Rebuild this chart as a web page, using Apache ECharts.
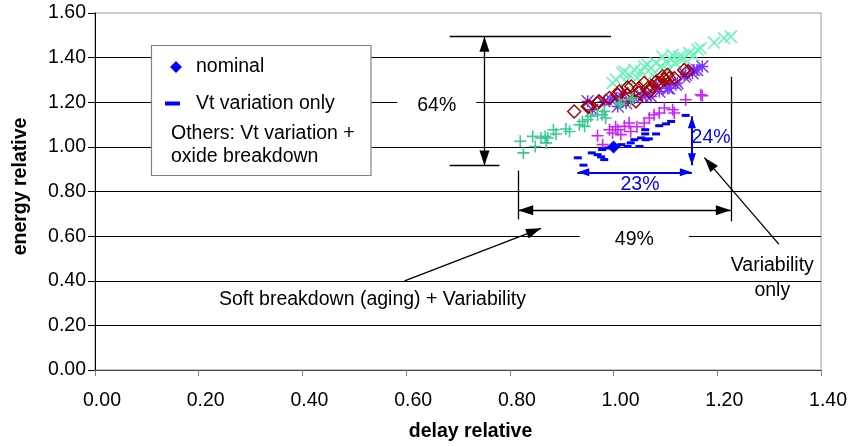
<!DOCTYPE html>
<html><head><meta charset="utf-8">
<script src="https://cdn.jsdelivr.net/npm/echarts@6/dist/echarts.min.js"></script>
<style>html,body{margin:0;padding:0;background:#fff}#c{width:850px;height:447px}</style>
</head><body><div id="c"></div>
<script>
// ---------- data (delay relative, energy relative) ----------
const nominal = [[1.00, 1.00]];
const vtOnly = [[0.931,0.951],[0.942,0.918],[0.958,0.973],[0.969,0.965],[0.976,0.955],[0.982,0.943],[0.978,0.988],[0.990,0.995],[1.005,1.002],[1.015,1.010],[1.027,1.002],[1.033,1.018],[1.040,1.032],[1.050,1.002],[1.053,1.040],[1.061,1.058],[1.062,1.032],[1.068,1.036],[1.061,1.077],[1.082,1.058],[1.088,1.095],[1.101,1.103],[1.111,1.114],[1.139,1.141]];
const greenPlus = [[0.820,1.025],[0.826,0.973],[0.844,1.047],[0.849,1.002],[0.860,1.040],[0.868,1.047],[0.870,1.018],[0.873,1.040],[0.884,1.077],[0.889,1.058],[0.908,1.080],[0.915,1.069],[0.934,1.099],[0.940,1.114],[0.944,1.092],[0.950,1.122],[0.956,1.137],[0.969,1.144],[0.978,1.144],[0.982,1.159],[0.985,1.129],[1.011,1.196],[1.014,1.189],[1.033,1.211],[1.037,1.219]];
const lightX = [[0.998,1.286],[1.005,1.301],[1.017,1.331],[1.021,1.338],[1.024,1.293],[1.030,1.323],[1.040,1.345],[1.046,1.308],[1.053,1.338],[1.059,1.360],[1.065,1.368],[1.072,1.353],[1.075,1.323],[1.082,1.375],[1.091,1.360],[1.094,1.405],[1.101,1.382],[1.104,1.345],[1.111,1.390],[1.114,1.412],[1.120,1.375],[1.127,1.405],[1.130,1.398],[1.136,1.398],[1.146,1.420],[1.155,1.412],[1.162,1.435],[1.168,1.442],[1.194,1.467],[1.213,1.487],[1.226,1.494]];
const redDiamond = [[0.924,1.159],[0.950,1.181],[0.953,1.181],[0.969,1.196],[0.972,1.204],[0.992,1.219],[1.008,1.234],[1.011,1.248],[1.024,1.211],[1.027,1.234],[1.027,1.266],[1.034,1.271],[1.043,1.204],[1.049,1.263],[1.049,1.241],[1.059,1.286],[1.066,1.263],[1.069,1.248],[1.075,1.271],[1.082,1.293],[1.088,1.286],[1.094,1.315],[1.098,1.301],[1.104,1.323],[1.107,1.308],[1.117,1.308],[1.136,1.345],[1.143,1.338]];
const purpleStar = [[0.950,1.204],[0.959,1.166],[0.982,1.204],[0.995,1.211],[1.005,1.219],[1.008,1.181],[1.017,1.241],[1.024,1.196],[1.040,1.219],[1.056,1.226],[1.062,1.233],[1.072,1.226],[1.082,1.278],[1.088,1.248],[1.104,1.263],[1.107,1.263],[1.120,1.278],[1.123,1.286],[1.136,1.315],[1.139,1.323],[1.152,1.330],[1.155,1.345],[1.161,1.345],[1.171,1.360]];
const magentaPlus = [[0.969,1.050],[0.979,1.010],[0.992,1.077],[0.998,1.062],[1.004,1.090],[1.008,1.077],[1.014,1.055],[1.021,1.092],[1.030,1.107],[1.033,1.069],[1.045,1.090],[1.059,1.107],[1.069,1.129],[1.078,1.144],[1.088,1.152],[1.098,1.174],[1.114,1.166],[1.117,1.152],[1.139,1.211],[1.168,1.234],[1.171,1.229]];

const legendNames = ['nominal', 'Vt variation only'];
const legendNote = ['Others: Vt variation +', 'oxide breakdown'];
const axisTitles = {x: 'delay relative', y: 'energy relative'};

// annotation segments in data units: [x1,y1,x2,y2,startArrow,endArrow,kind]
const segments = [
  [0.684,1.494,0.995,1.494,0,0,'k'],
  [0.684,0.916,0.780,0.916,0,0,'k'],
  [0.751,1.494,0.751,0.916,1,1,'k'],
  [0.816,0.894,0.816,0.675,0,0,'k'],
  [1.226,1.314,1.226,0.666,0,0,'k'],
  [0.816,0.716,1.226,0.716,1,1,'k'],
  [0.930,0.886,1.151,0.886,1,1,'b'],
  [1.151,1.137,1.151,0.918,1,1,'b'],
  [0.597,0.399,0.860,0.635,0,1,'k'],
  [1.319,0.563,1.175,0.952,0,1,'k']
];
// annotation texts: [text, x, y, kind, whiteBoxHalfPad]
const notes = [
  ['64%', 0.659, 1.184, 'k', 20],
  ['49%', 1.040, 0.585, 'k', 35],
  ['23%', 1.051, 0.831, 'b', 0],
  ['24%', 1.188, 1.041, 'b', 0],
  ['Soft breakdown (aging) + Variability', 0.535, 0.317, 'k', 0],
  ['Variability\nonly', 1.306, 0.411, 'k', 0]
];

const FONT = '"Liberation Sans", Arial, sans-serif';
const FS = 19.5;
const BLUE = '#0000FF';
const PLUS = 'path://M4.35,0 H5.65 V4.35 H10 V5.65 H5.65 V10 H4.35 V5.65 H0 V4.35 H4.35 Z';
const PLUS_THIN = 'path://M4.55,0 H5.45 V4.55 H10 V5.45 H5.45 V10 H4.55 V5.45 H0 V4.55 H4.55 Z';
const STAR = 'path://M4.4,0 H5.6 V4.4 H10 V5.6 H5.6 V10 H4.4 V5.6 H0 V4.4 H4.4 Z ' +
  'M0.42,-0.42 L10.42,9.58 L9.58,10.42 L-0.42,0.42 Z M10.42,0.42 L0.42,10.42 L-0.42,9.58 L9.58,-0.42 Z';
const ARROW_K = 'path://M5,0 M5,15 L10,30 L0,30 Z';
const ARROW_B = 'path://M4,0 M4,12 L8,24 L0,24 Z';
const ICON_DIAMOND = 'path://M0,0 M30,14 M15,1 L21,7 L15,13 L9,7 Z';
const ICON_DASH = 'path://M0,0 M30,14 M4,5 H19 V9 H4 Z';

const chart = echarts.init(document.getElementById('c'), null, {renderer: 'canvas'});

function sc(name, data, symbol, size, color, extra) {
  return Object.assign({
    type: 'scatter', name, data, symbol, symbolSize: size,
    itemStyle: {color, opacity: 1}, emphasis: {disabled: true}, silent: true
  }, extra || {});
}

const mlData = segments.map(s => {
  const col = s[6] === 'b' ? BLUE : '#000';
  const arr = s[6] === 'b' ? ARROW_B : ARROW_K;
  const sz = s[6] === 'b' ? [8, 24] : [10, 30];
  return [
    {coord: [s[0], s[1]], symbol: s[4] ? arr : 'none', symbolSize: sz,
     lineStyle: {color: col, width: s[6] === 'b' ? 2 : 1.3, type: 'solid'}, itemStyle: {color: col}},
    {coord: [s[2], s[3]], symbol: s[5] ? arr : 'none', symbolSize: sz, itemStyle: {color: col}}
  ];
});

chart.setOption({
  animation: false,
  grid: {left: 95, right: 28, top: 13, bottom: 76, show: true, borderColor: '#999', borderWidth: 1},
  xAxis: {
    type: 'value', min: 0, max: 1.4, interval: 0.2,
    name: axisTitles.x, nameLocation: 'middle', nameGap: 52,
    nameTextStyle: {fontFamily: FONT, fontSize: FS, fontWeight: 'bold', color: '#000', padding: [0, 0, 0, 25]},
    axisLine: {show: true, lineStyle: {color: '#404040', width: 1}},
    axisTick: {show: true, length: 6, lineStyle: {color: '#808080'}},
    axisLabel: {fontFamily: FONT, fontSize: FS, color: '#000', margin: 21, padding: [0, 0, 0, 14], formatter: v => v.toFixed(2)},
    splitLine: {show: false}
  },
  yAxis: {
    type: 'value', min: 0, max: 1.6, interval: 0.2,
    name: axisTitles.y, nameLocation: 'middle', nameGap: 64, nameRotate: 90,
    nameTextStyle: {fontFamily: FONT, fontSize: FS, fontWeight: 'bold', color: '#000', padding: [0, 0, 0, 10]},
    axisLine: {show: true, lineStyle: {color: '#000', width: 1}},
    axisTick: {show: true, length: 7, lineStyle: {color: '#000'}},
    axisLabel: {fontFamily: FONT, fontSize: FS, color: '#000', margin: 9, padding: [4, 0, 0, 0], formatter: v => v.toFixed(2)},
    splitLine: {show: true, showMaxLine: false, lineStyle: {color: '#000', width: 1}}
  },
  legend: {
    data: [{name: legendNames[0], icon: ICON_DIAMOND}, {name: legendNames[1], icon: ICON_DASH}],
    orient: 'vertical', left: 161, top: 57, itemWidth: 30, itemHeight: 14, itemGap: 16.5, padding: 0,
    selectedMode: false, z: 110,
    textStyle: {fontFamily: FONT, fontSize: FS, color: '#000', lineHeight: 20}
  },
  series: [
    sc('light x', lightX, PLUS_THIN, 17, '#66F5B8', {symbolRotate: 45}),
    sc('purple star', purpleStar, STAR, 13, '#7A2EFF'),
    sc('red diamond', redDiamond, 'diamond', 13, 'rgba(0,0,0,0)', {itemStyle: {color: 'rgba(0,0,0,0)', borderColor: '#A00000', borderWidth: 1.4, opacity: 1}}),
    sc('green plus', greenPlus, PLUS, 12, '#3CC991'),
    sc('magenta plus', magentaPlus, PLUS, 12, '#CC22FF'),
    sc(legendNames[1], vtOnly, 'rect', [8, 3], BLUE),
    sc(legendNames[0], nominal, 'diamond', 13, BLUE),
    {type: 'scatter', name: 'annotations', data: [], silent: true,
     markLine: {silent: true, animation: false, label: {show: false}, emphasis: {disabled: true}, precision: 4, data: mlData}}
  ]
});

const px = (x, y) => chart.convertToPixel({xAxisIndex: 0, yAxisIndex: 0}, [x, y]);
const graphics = [
  {type: 'rect', shape: {x: 151.5, y: 45.5, width: 219.5, height: 130}, z: 100,
   style: {fill: '#fff', stroke: '#808080', lineWidth: 1.2}},
  {type: 'text', x: 171, y: 134, z: 120,
   style: {text: legendNote[0], fontFamily: FONT, fontSize: FS, fill: '#000', verticalAlign: 'middle'}},
  {type: 'text', x: 171, y: 156.7, z: 120,
   style: {text: legendNote[1], fontFamily: FONT, fontSize: FS, fill: '#000', verticalAlign: 'middle'}}
];
notes.forEach(n => {
  const p = px(n[1], n[2]);
  const st = {text: n[0], fontFamily: FONT, fontSize: FS, fill: n[3] === 'b' ? BLUE : '#000',
              align: 'center', verticalAlign: 'middle', lineHeight: 25};
  if (n[4]) { st.backgroundColor = '#fff'; st.padding = [2, n[4]]; }
  graphics.push({type: 'text', x: p[0], y: p[1], z: 50, style: st});
});
chart.setOption({graphic: graphics});
</script></body></html>
